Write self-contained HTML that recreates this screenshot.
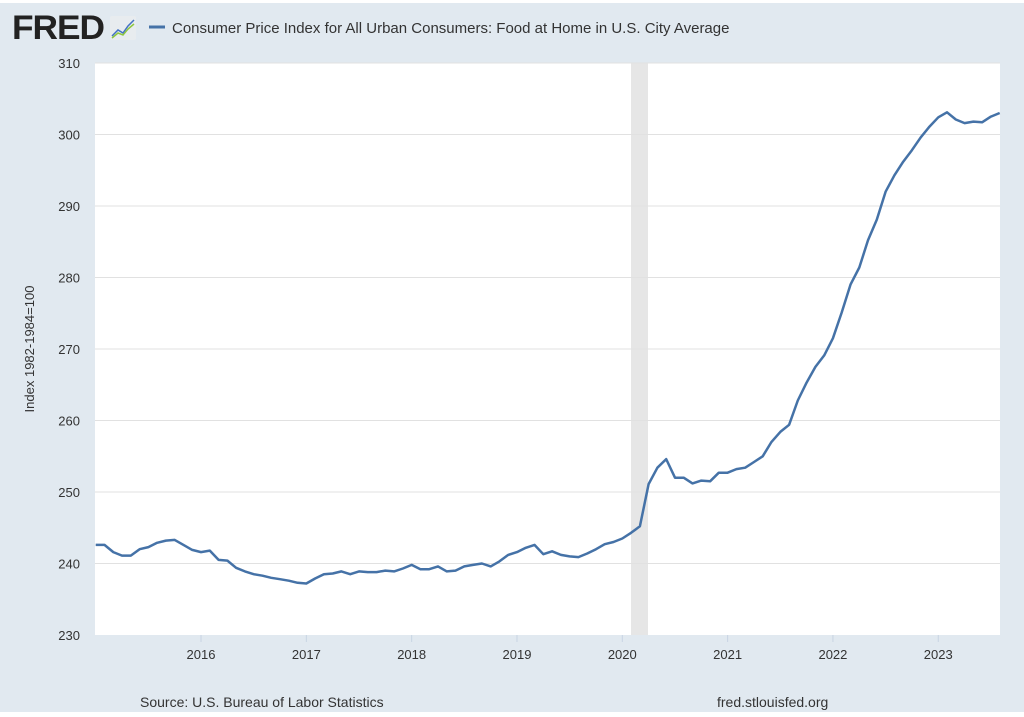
<!DOCTYPE html>
<html><head><meta charset="utf-8"><style>
body{margin:0;width:1024px;height:712px;background:#fff;font-family:"Liberation Sans",sans-serif;overflow:hidden}
</style></head><body>
<svg id="s" width="1024" height="712" xmlns="http://www.w3.org/2000/svg" font-family="Liberation Sans, sans-serif">
<rect x="0" y="3" width="1024" height="709" fill="#e1e9f0"/>
<text x="12" y="39" font-size="34" font-weight="bold" fill="#222" letter-spacing="-1" textLength="92" lengthAdjust="spacingAndGlyphs">FRED</text>
<rect x="110" y="16" width="26" height="24" rx="2" fill="#e8ecef"/>
<polyline points="112,36 118,30 123,33 128,26 134,20" fill="none" stroke="#4472c4" stroke-width="1.5"/>
<polyline points="112,38 118,33 123,35 128,29 134,24" fill="none" stroke="#8dc63f" stroke-width="1.5"/>
<line x1="149" y1="27" x2="165" y2="27" stroke="#4572a7" stroke-width="3"/>
<text x="172" y="33" font-size="15" fill="#333">Consumer Price Index for All Urban Consumers: Food at Home in U.S. City Average</text>
<rect x="95" y="63" width="905" height="572" fill="#fff"/>
<rect x="631" y="63" width="17" height="572" fill="#e6e6e6"/>
<g id="grid" stroke="#e1e1e1" stroke-width="1"></g>
<g id="lab" font-size="13" fill="#333"></g>
<text transform="translate(34,349) rotate(-90)" font-size="13" fill="#333" text-anchor="middle">Index 1982-1984=100</text>
<path id="p" fill="none" stroke="#4572a7" stroke-width="2.5" stroke-linejoin="round"/>
<text x="140" y="707" font-size="14" fill="#333">Source: U.S. Bureau of Labor Statistics</text>
<text x="717" y="707" font-size="14" fill="#333">fred.stlouisfed.org</text>
</svg>
<script>
var d=[242.6,242.6,241.6,241.1,241.1,242.0,242.3,242.9,243.2,243.3,242.6,241.9,
241.6,241.8,240.5,240.4,239.4,238.9,238.5,238.3,238.0,237.8,237.6,237.3,
237.2,237.1,237.9,238.5,238.6,238.9,238.5,238.9,238.8,238.8,239.0,238.9,239.3,
239.8,239.2,239.2,239.6,238.9,239.0,239.6,239.8,240.0,239.6,240.3,241.2,
241.6,242.2,242.6,241.3,241.7,241.2,241.0,240.9,241.4,242.0,242.7,243.0,
243.5,244.3,245.2,251.1,253.4,254.6,252.0,252.0,251.2,251.6,251.5,252.7,
252.7,253.2,253.4,254.2,255.0,257.0,258.4,259.4,262.8,265.3,267.5,269.1,
271.5,275.1,279.0,281.4,285.2,288.1,292.0,294.3,296.2,297.8,299.6,301.1,
302.4,303.1,302.1,301.6,301.8,301.7,302.5,303.0];
d.splice(25,1);
function X(i){return 95.7+i*(904/103);}
function Y(v){return 635-(v-230)*7.15;}
var s="";for(var i=0;i<d.length;i++)s+=(i?"L":"M")+X(i).toFixed(1)+","+Y(d[i]).toFixed(1);
document.getElementById("p").setAttribute("d",s);
var ns="http://www.w3.org/2000/svg",g=document.getElementById("grid"),l=document.getElementById("lab");
for(var v=240;v<=310;v+=10){var ln=document.createElementNS(ns,"line");ln.setAttribute("x1",95);ln.setAttribute("x2",1000);ln.setAttribute("y1",Y(v));ln.setAttribute("y2",Y(v));g.appendChild(ln);}
for(var v=230;v<=310;v+=10){var t=document.createElementNS(ns,"text");t.setAttribute("x",80);t.setAttribute("y",Y(v)+5);t.setAttribute("text-anchor","end");t.textContent=v;l.appendChild(t);}
for(var y=2016;y<=2023;y++){var x=95.7+(y-2015)*12*(904/103);
var tk=document.createElementNS(ns,"line");tk.setAttribute("x1",x);tk.setAttribute("x2",x);tk.setAttribute("y1",635);tk.setAttribute("y2",642);tk.setAttribute("stroke","#c8d4e3");g.appendChild(tk);
var t=document.createElementNS(ns,"text");t.setAttribute("x",x);t.setAttribute("y",659);t.setAttribute("text-anchor","middle");t.textContent=y;l.appendChild(t);}
</script>
</body></html>
